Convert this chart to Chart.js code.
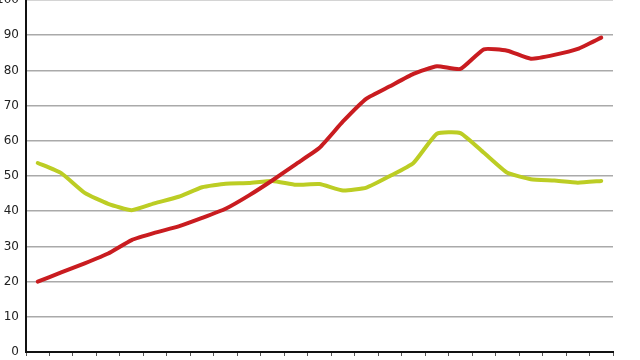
<!DOCTYPE html>
<html>
<head>
<meta charset="utf-8">
<script src="https://cdn.jsdelivr.net/npm/chart.js@4"></script>
<style>
  html, body { margin: 0; padding: 0; background: #ffffff; overflow: hidden; }
  #wrap { position: absolute; left: 0; top: 0; width: 640px; height: 360px; }
</style>
</head>
<body>
<div id="wrap"><canvas id="c"></canvas></div>
<script>
const categories = ['1','2','3','4','5','6','7','8','9','10','11','12','13','14','15','16','17','18','19','20','21','22','23','24','25'];
const redSeries = [20, 22.6, 25.2, 28, 31.8, 33.9, 35.7, 38.1, 40.7, 44.5, 48.8, 53.4, 58, 65.5, 72, 75.5, 79, 81.2, 80.4, 86, 85.6, 83.3, 84.4, 86.1, 89.3];
const greenSeries = [53.7, 50.8, 45.2, 42.1, 40.3, 42.3, 44.1, 46.8, 47.8, 48, 48.6, 47.5, 47.7, 45.9, 46.7, 50, 53.7, 62, 62.2, 56.6, 50.9, 49.1, 48.7, 48.1, 48.6];
const yTicks = [0, 10, 20, 30, 40, 50, 60, 70, 80, 90, 100];

new Chart(document.getElementById('c'), {
  type: 'line',
  data: {
    labels: categories,
    datasets: [
      { data: redSeries, borderColor: '#c91c20', borderWidth: 4, pointRadius: 0, tension: 0.15, borderJoinStyle: 'round', borderCapStyle: 'round', fill: false },
      { data: greenSeries, borderColor: '#bccd24', borderWidth: 4, pointRadius: 0, tension: 0.15, borderJoinStyle: 'round', borderCapStyle: 'round', fill: false }
    ]
  },
  options: {
    responsive: true,
    maintainAspectRatio: false,
    animation: false,
    layout: { padding: { left: 0, right: 27, top: 0, bottom: 0 } },
    plugins: { legend: { display: false }, tooltip: { enabled: false } },
    scales: {
      x: {
        offset: true,
        grid: { display: true, offset: true, drawOnChartArea: false, drawTicks: true, tickLength: 4, color: '#555555', lineWidth: 1 },
        border: { display: true, color: '#111111', width: 2 },
        ticks: { display: false },
        afterFit: (s) => { s.height = 8; s.paddingLeft = 0; s.paddingRight = 0; }
      },
      y: {
        min: 0, max: 100,
        afterBuildTicks: (s) => { s.ticks = yTicks.map(v => ({ value: v })); },
        grid: { color: '#aaaaaa', lineWidth: 1.5, drawTicks: false },
        border: { display: true, color: '#111111', width: 2 },
        ticks: { padding: 7, color: '#222222', font: { family: 'DejaVu Sans', size: 12 } },
        afterFit: (s) => { s.width = 26; s.paddingTop = 0; s.paddingBottom = 0; }
      }
    }
  }
});
</script>
</body>
</html>
